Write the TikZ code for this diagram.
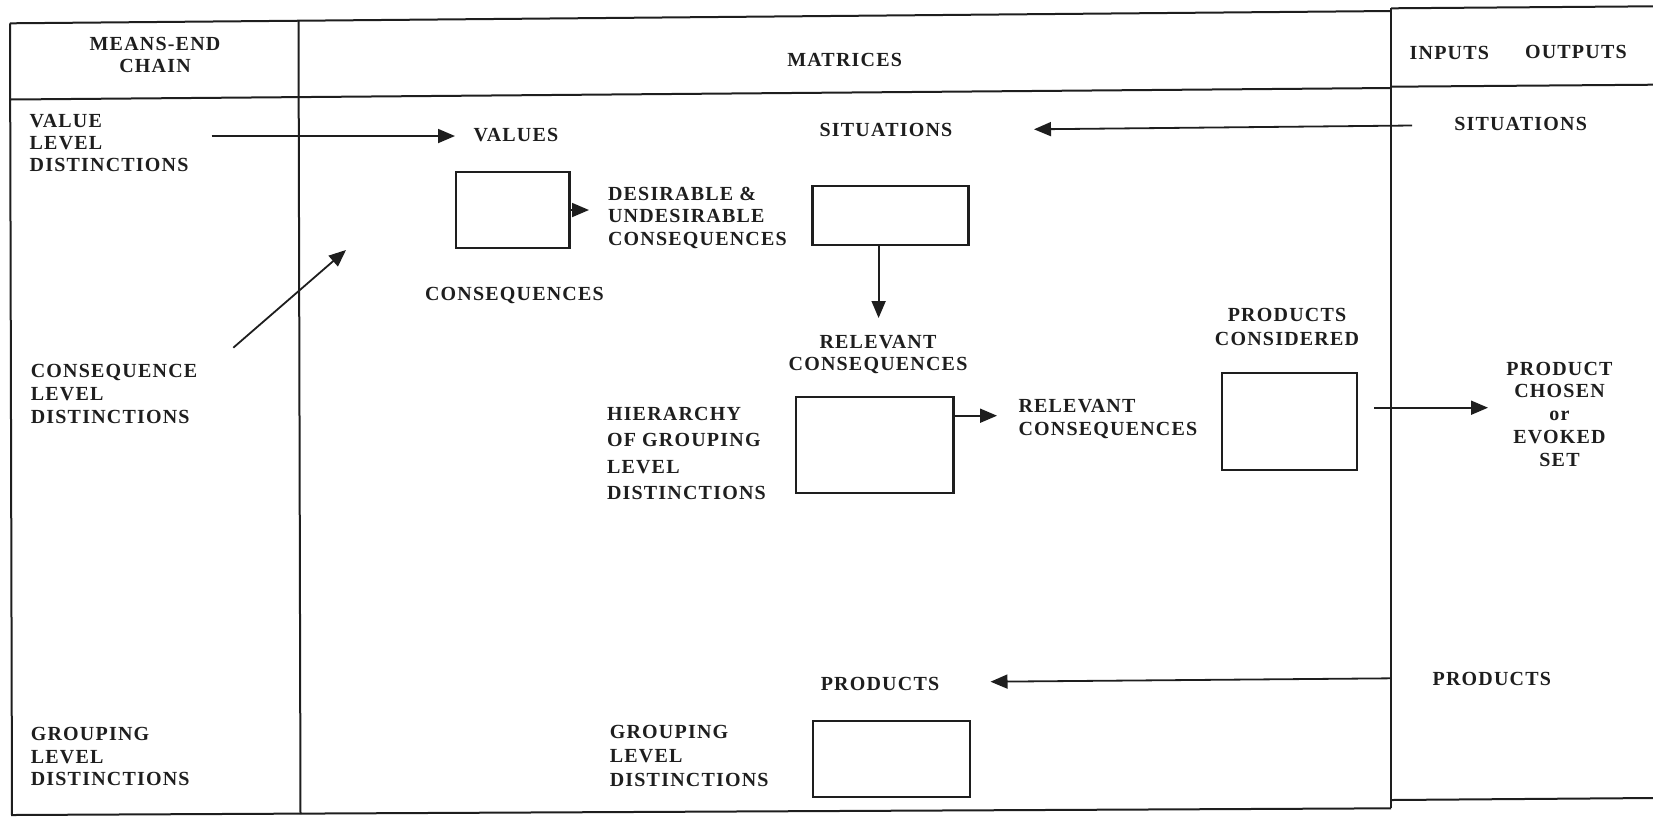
\documentclass[tikz,border=0pt]{standalone}
\usepackage{fontspec}
\setmainfont{Liberation Serif}
\newfontfamily\lblfam[LetterSpace=6]{Liberation Serif}
\usetikzlibrary{arrows.meta}
\definecolor{ink}{RGB}{30,30,30}
\newcommand\lblfont{\lblfam\bfseries\fontsize{10}{11.2}\selectfont}
\newcommand\blk[3]{{\fontsize{10}{#2}\selectfont\begin{tabular}[t]{@{}#1@{}}#3\end{tabular}}}
\begin{document}
\begin{tikzpicture}[x=0.5pt,y=-0.5pt,
  lbl/.style={inner sep=0pt, outer sep=0pt, text=ink, font=\lblfont},
  boxst/.style={draw=ink, line width=1.1pt, inner sep=0pt, outer sep=0pt},
  frame/.style={draw=ink, line width=1pt},
  arr/.style={draw=ink, line width=0.9pt, -{Triangle[length=8.5pt,width=7pt]}}]
\useasboundingbox (0,0) rectangle (1653,816);
% frame
\draw[frame] (10,23.3) -- (1391,11);
\draw[frame] (10,99.5) -- (1391,88);
\draw[frame] (10,23.3) -- (12,815) -- (1391,808.3);
\draw[frame] (298.5,21) -- (300.5,814);
\draw[frame] (1391,8.3) -- (1391,808.3);
\draw[frame] (1391,8.3) -- (1653,6.3);
\draw[frame] (1391,86.7) -- (1653,84.7);
\draw[frame] (1391,800) -- (1653,798);
% texts
\node[lbl, anchor=base] (tmec) at (155,50) {\blk{c}{11.2}{MEANS-END\\CHAIN}};
\node[lbl, anchor=base] (tmat) at (844.6,66.7) {MATRICES};
\node[lbl, anchor=base west] (tin) at (1409.7,59.4) {INPUTS};
\node[lbl, anchor=base west] (tout) at (1525,58.4) {OUTPUTS};
\node[lbl, anchor=base west] (tvl) at (29.7,127.4) {\blk{l}{11}{VALUE\\LEVEL\\DISTINCTIONS}};
\node[lbl, anchor=base west] (tcl) at (30.8,377.7) {\blk{l}{11.5}{CONSEQUENCE\\LEVEL\\DISTINCTIONS}};
\node[lbl, anchor=base west] (tgl) at (30.8,740.7) {\blk{l}{11.25}{GROUPING\\LEVEL\\DISTINCTIONS}};
\node[lbl, anchor=base west] (tvalues) at (473.7,141) {VALUES};
\node[lbl, anchor=base] (tsit) at (886,136.7) {SITUATIONS};
\node[lbl, anchor=base] (tsitr) at (1520.6,130.7) {SITUATIONS};
\node[lbl, anchor=base west] (tdes) at (608,200) {\blk{l}{11.25}{DESIRABLE \&\\UNDESIRABLE\\CONSEQUENCES}};
\node[lbl, anchor=base west] (tcons) at (425,300.7) {CONSEQUENCES};
\node[lbl, anchor=base] (trel1) at (878,348.4) {\blk{c}{11.15}{RELEVANT\\CONSEQUENCES}};
\node[lbl, anchor=base] (tpc) at (1287,321.7) {\blk{c}{11.65}{PRODUCTS\\CONSIDERED}};
\node[lbl, anchor=base west] (thier) at (607,420) {\blk{l}{13.33}{HIERARCHY\\OF GROUPING\\LEVEL\\DISTINCTIONS}};
\node[lbl, anchor=base west] (trel2) at (1018.5,412.7) {\blk{l}{11.15}{RELEVANT\\CONSEQUENCES}};
\node[lbl, anchor=base] (tchosen) at (1559.5,375) {\blk{c}{11.46}{PRODUCT\\CHOSEN\\or\\EVOKED\\SET}};
\node[lbl, anchor=base west] (tprodr) at (1432.6,685) {PRODUCTS};
\node[lbl, anchor=base] (tprodm) at (880,690.7) {PRODUCTS};
\node[lbl, anchor=base west] (tgm) at (609.8,738.4) {\blk{l}{12}{GROUPING\\LEVEL\\DISTINCTIONS}};
% boxes
\node[boxst, minimum width=56.75pt, minimum height=38.3pt] (b1) at (512.7,210) {};
\node[boxst, minimum width=78pt, minimum height=29.5pt] (b2) at (890.5,215.5) {};
\node[boxst, minimum width=78.7pt, minimum height=48pt] (b3) at (874.7,444.7) {};
\node[boxst, minimum width=67.5pt, minimum height=48.35pt] (b4) at (1289.3,421.7) {};
\node[boxst, minimum width=78.5pt, minimum height=38pt] (b5) at (891.8,758.7) {};
% connector ends
\coordinate (vs) at (211.5,136);
\coordinate (vt) at (455,136);
\coordinate (ss) at (1412,125.5);
\coordinate (st) at (1034,129.3);
\coordinate (b1t) at (589,210);
\coordinate (dt) at (878.6,318);
\coordinate (ds) at (233.3,347.7);
\coordinate (dtip) at (346,250);
\coordinate (b3t) at (997,415.7);
\coordinate (ps) at (1374.4,407.7);
\coordinate (pt) at (1488,407.7);
\coordinate (pds) at (1391,678.3);
\coordinate (pdt) at (990.5,681.7);
% connectors
\draw[arr] (vs) -- (vt);
\draw[arr] (ss) -- (st);
\draw[arr] (b1.east) -- (b1t);
\draw[arr] (b2.south -| dt) -- (dt);
\draw[arr] (ds) -- (dtip);
\draw[arr] (b3.east |- b3t) -- (b3t);
\draw[arr] (ps) -- (pt);
\draw[arr] (pds) -- (pdt);
\end{tikzpicture}
\end{document}
